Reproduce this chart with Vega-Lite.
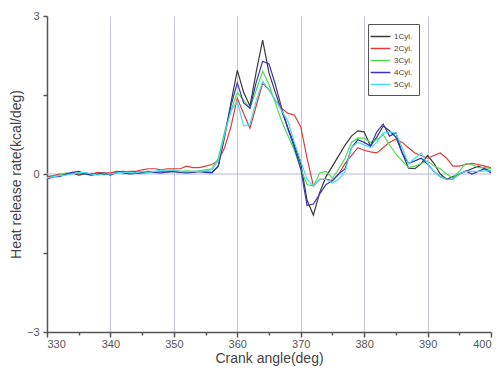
{
  "$schema": "https://vega.github.io/schema/vega-lite/v6.json",
  "autosize": "none",
  "width": 444,
  "height": 316,
  "padding": {"left": 47, "top": 16, "right": 12, "bottom": 44},
  "background": "white",
  "config": {
    "view": {"stroke": null},
    "font": "Liberation Sans"
  },
  "datasets": {
    "zero": [{"z": 0}]
  },
  "data": {
    "values": [
      {"cyl":"1Cyl.","deg":330,"v":-0.05},{"cyl":"1Cyl.","deg":331,"v":-0.05},{"cyl":"1Cyl.","deg":332,"v":-0.03},{"cyl":"1Cyl.","deg":333,"v":0.0},{"cyl":"1Cyl.","deg":334,"v":0.02},{"cyl":"1Cyl.","deg":335,"v":-0.02},{"cyl":"1Cyl.","deg":336,"v":0.0},{"cyl":"1Cyl.","deg":337,"v":0.01},{"cyl":"1Cyl.","deg":338,"v":0.0},{"cyl":"1Cyl.","deg":339,"v":-0.01},{"cyl":"1Cyl.","deg":340,"v":0.0},{"cyl":"1Cyl.","deg":341,"v":0.05},{"cyl":"1Cyl.","deg":342,"v":0.02},{"cyl":"1Cyl.","deg":343,"v":0.0},{"cyl":"1Cyl.","deg":344,"v":0.01},{"cyl":"1Cyl.","deg":345,"v":0.02},{"cyl":"1Cyl.","deg":346,"v":0.03},{"cyl":"1Cyl.","deg":347,"v":0.03},{"cyl":"1Cyl.","deg":348,"v":0.05},{"cyl":"1Cyl.","deg":349,"v":0.04},{"cyl":"1Cyl.","deg":350,"v":0.05},{"cyl":"1Cyl.","deg":351,"v":0.03},{"cyl":"1Cyl.","deg":352,"v":0.03},{"cyl":"1Cyl.","deg":353,"v":0.04},{"cyl":"1Cyl.","deg":354,"v":0.05},{"cyl":"1Cyl.","deg":355,"v":0.04},{"cyl":"1Cyl.","deg":356,"v":0.03},{"cyl":"1Cyl.","deg":357,"v":0.15},{"cyl":"1Cyl.","deg":358,"v":0.7},{"cyl":"1Cyl.","deg":359,"v":1.35},{"cyl":"1Cyl.","deg":360,"v":1.97},{"cyl":"1Cyl.","deg":361,"v":1.55},{"cyl":"1Cyl.","deg":362,"v":1.29},{"cyl":"1Cyl.","deg":363,"v":1.95},{"cyl":"1Cyl.","deg":364,"v":2.54},{"cyl":"1Cyl.","deg":365,"v":1.92},{"cyl":"1Cyl.","deg":366,"v":1.55},{"cyl":"1Cyl.","deg":367,"v":1.2},{"cyl":"1Cyl.","deg":368,"v":0.87},{"cyl":"1Cyl.","deg":369,"v":0.55},{"cyl":"1Cyl.","deg":370,"v":0.2},{"cyl":"1Cyl.","deg":371,"v":-0.5},{"cyl":"1Cyl.","deg":372,"v":-0.78},{"cyl":"1Cyl.","deg":373,"v":-0.35},{"cyl":"1Cyl.","deg":374,"v":-0.05},{"cyl":"1Cyl.","deg":375,"v":0.15},{"cyl":"1Cyl.","deg":376,"v":0.35},{"cyl":"1Cyl.","deg":377,"v":0.55},{"cyl":"1Cyl.","deg":378,"v":0.72},{"cyl":"1Cyl.","deg":379,"v":0.82},{"cyl":"1Cyl.","deg":380,"v":0.8},{"cyl":"1Cyl.","deg":381,"v":0.53},{"cyl":"1Cyl.","deg":382,"v":0.7},{"cyl":"1Cyl.","deg":383,"v":0.91},{"cyl":"1Cyl.","deg":384,"v":0.82},{"cyl":"1Cyl.","deg":385,"v":0.7},{"cyl":"1Cyl.","deg":386,"v":0.4},{"cyl":"1Cyl.","deg":387,"v":0.11},{"cyl":"1Cyl.","deg":388,"v":0.1},{"cyl":"1Cyl.","deg":389,"v":0.2},{"cyl":"1Cyl.","deg":390,"v":0.35},{"cyl":"1Cyl.","deg":391,"v":0.2},{"cyl":"1Cyl.","deg":392,"v":0.0},{"cyl":"1Cyl.","deg":393,"v":-0.1},{"cyl":"1Cyl.","deg":394,"v":-0.05},{"cyl":"1Cyl.","deg":395,"v":0.0},{"cyl":"1Cyl.","deg":396,"v":0.05},{"cyl":"1Cyl.","deg":397,"v":0.1},{"cyl":"1Cyl.","deg":398,"v":0.15},{"cyl":"1Cyl.","deg":399,"v":0.1},{"cyl":"1Cyl.","deg":400,"v":0.05},

      {"cyl":"2Cyl.","deg":330,"v":-0.05},{"cyl":"2Cyl.","deg":331,"v":-0.03},{"cyl":"2Cyl.","deg":332,"v":0.0},{"cyl":"2Cyl.","deg":333,"v":0.0},{"cyl":"2Cyl.","deg":334,"v":0.02},{"cyl":"2Cyl.","deg":335,"v":0.0},{"cyl":"2Cyl.","deg":336,"v":0.02},{"cyl":"2Cyl.","deg":337,"v":0.0},{"cyl":"2Cyl.","deg":338,"v":0.03},{"cyl":"2Cyl.","deg":339,"v":0.02},{"cyl":"2Cyl.","deg":340,"v":0.02},{"cyl":"2Cyl.","deg":341,"v":0.05},{"cyl":"2Cyl.","deg":342,"v":0.03},{"cyl":"2Cyl.","deg":343,"v":0.05},{"cyl":"2Cyl.","deg":344,"v":0.05},{"cyl":"2Cyl.","deg":345,"v":0.08},{"cyl":"2Cyl.","deg":346,"v":0.1},{"cyl":"2Cyl.","deg":347,"v":0.1},{"cyl":"2Cyl.","deg":348,"v":0.08},{"cyl":"2Cyl.","deg":349,"v":0.1},{"cyl":"2Cyl.","deg":350,"v":0.1},{"cyl":"2Cyl.","deg":351,"v":0.1},{"cyl":"2Cyl.","deg":352,"v":0.15},{"cyl":"2Cyl.","deg":353,"v":0.12},{"cyl":"2Cyl.","deg":354,"v":0.12},{"cyl":"2Cyl.","deg":355,"v":0.15},{"cyl":"2Cyl.","deg":356,"v":0.18},{"cyl":"2Cyl.","deg":357,"v":0.25},{"cyl":"2Cyl.","deg":358,"v":0.5},{"cyl":"2Cyl.","deg":359,"v":0.9},{"cyl":"2Cyl.","deg":360,"v":1.44},{"cyl":"2Cyl.","deg":361,"v":1.15},{"cyl":"2Cyl.","deg":362,"v":0.87},{"cyl":"2Cyl.","deg":363,"v":1.3},{"cyl":"2Cyl.","deg":364,"v":1.72},{"cyl":"2Cyl.","deg":365,"v":1.6},{"cyl":"2Cyl.","deg":366,"v":1.4},{"cyl":"2Cyl.","deg":367,"v":1.25},{"cyl":"2Cyl.","deg":368,"v":1.15},{"cyl":"2Cyl.","deg":369,"v":1.12},{"cyl":"2Cyl.","deg":370,"v":0.9},{"cyl":"2Cyl.","deg":371,"v":0.3},{"cyl":"2Cyl.","deg":372,"v":-0.23},{"cyl":"2Cyl.","deg":373,"v":-0.1},{"cyl":"2Cyl.","deg":374,"v":-0.1},{"cyl":"2Cyl.","deg":375,"v":-0.12},{"cyl":"2Cyl.","deg":376,"v":0.0},{"cyl":"2Cyl.","deg":377,"v":0.2},{"cyl":"2Cyl.","deg":378,"v":0.35},{"cyl":"2Cyl.","deg":379,"v":0.5},{"cyl":"2Cyl.","deg":380,"v":0.45},{"cyl":"2Cyl.","deg":381,"v":0.42},{"cyl":"2Cyl.","deg":382,"v":0.4},{"cyl":"2Cyl.","deg":383,"v":0.5},{"cyl":"2Cyl.","deg":384,"v":0.6},{"cyl":"2Cyl.","deg":385,"v":0.66},{"cyl":"2Cyl.","deg":386,"v":0.6},{"cyl":"2Cyl.","deg":387,"v":0.5},{"cyl":"2Cyl.","deg":388,"v":0.4},{"cyl":"2Cyl.","deg":389,"v":0.35},{"cyl":"2Cyl.","deg":390,"v":0.3},{"cyl":"2Cyl.","deg":391,"v":0.35},{"cyl":"2Cyl.","deg":392,"v":0.4},{"cyl":"2Cyl.","deg":393,"v":0.3},{"cyl":"2Cyl.","deg":394,"v":0.15},{"cyl":"2Cyl.","deg":395,"v":0.15},{"cyl":"2Cyl.","deg":396,"v":0.18},{"cyl":"2Cyl.","deg":397,"v":0.2},{"cyl":"2Cyl.","deg":398,"v":0.18},{"cyl":"2Cyl.","deg":399,"v":0.15},{"cyl":"2Cyl.","deg":400,"v":0.12},

      {"cyl":"3Cyl.","deg":330,"v":-0.08},{"cyl":"3Cyl.","deg":331,"v":-0.05},{"cyl":"3Cyl.","deg":332,"v":-0.02},{"cyl":"3Cyl.","deg":333,"v":0.02},{"cyl":"3Cyl.","deg":334,"v":0.0},{"cyl":"3Cyl.","deg":335,"v":0.03},{"cyl":"3Cyl.","deg":336,"v":0.0},{"cyl":"3Cyl.","deg":337,"v":-0.02},{"cyl":"3Cyl.","deg":338,"v":0.0},{"cyl":"3Cyl.","deg":339,"v":0.02},{"cyl":"3Cyl.","deg":340,"v":0.0},{"cyl":"3Cyl.","deg":341,"v":0.02},{"cyl":"3Cyl.","deg":342,"v":0.05},{"cyl":"3Cyl.","deg":343,"v":0.02},{"cyl":"3Cyl.","deg":344,"v":0.03},{"cyl":"3Cyl.","deg":345,"v":0.05},{"cyl":"3Cyl.","deg":346,"v":0.02},{"cyl":"3Cyl.","deg":347,"v":0.04},{"cyl":"3Cyl.","deg":348,"v":0.06},{"cyl":"3Cyl.","deg":349,"v":0.05},{"cyl":"3Cyl.","deg":350,"v":0.08},{"cyl":"3Cyl.","deg":351,"v":0.05},{"cyl":"3Cyl.","deg":352,"v":0.06},{"cyl":"3Cyl.","deg":353,"v":0.05},{"cyl":"3Cyl.","deg":354,"v":0.06},{"cyl":"3Cyl.","deg":355,"v":0.08},{"cyl":"3Cyl.","deg":356,"v":0.1},{"cyl":"3Cyl.","deg":357,"v":0.3},{"cyl":"3Cyl.","deg":358,"v":0.8},{"cyl":"3Cyl.","deg":359,"v":1.2},{"cyl":"3Cyl.","deg":360,"v":1.55},{"cyl":"3Cyl.","deg":361,"v":1.4},{"cyl":"3Cyl.","deg":362,"v":1.25},{"cyl":"3Cyl.","deg":363,"v":1.6},{"cyl":"3Cyl.","deg":364,"v":1.95},{"cyl":"3Cyl.","deg":365,"v":1.7},{"cyl":"3Cyl.","deg":366,"v":1.35},{"cyl":"3Cyl.","deg":367,"v":1.0},{"cyl":"3Cyl.","deg":368,"v":0.72},{"cyl":"3Cyl.","deg":369,"v":0.45},{"cyl":"3Cyl.","deg":370,"v":0.1},{"cyl":"3Cyl.","deg":371,"v":-0.2},{"cyl":"3Cyl.","deg":372,"v":-0.23},{"cyl":"3Cyl.","deg":373,"v":0.02},{"cyl":"3Cyl.","deg":374,"v":0.05},{"cyl":"3Cyl.","deg":375,"v":-0.08},{"cyl":"3Cyl.","deg":376,"v":0.1},{"cyl":"3Cyl.","deg":377,"v":0.3},{"cyl":"3Cyl.","deg":378,"v":0.6},{"cyl":"3Cyl.","deg":379,"v":0.68},{"cyl":"3Cyl.","deg":380,"v":0.68},{"cyl":"3Cyl.","deg":381,"v":0.6},{"cyl":"3Cyl.","deg":382,"v":0.65},{"cyl":"3Cyl.","deg":383,"v":0.75},{"cyl":"3Cyl.","deg":384,"v":0.55},{"cyl":"3Cyl.","deg":385,"v":0.38},{"cyl":"3Cyl.","deg":386,"v":0.25},{"cyl":"3Cyl.","deg":387,"v":0.12},{"cyl":"3Cyl.","deg":388,"v":0.15},{"cyl":"3Cyl.","deg":389,"v":0.2},{"cyl":"3Cyl.","deg":390,"v":0.25},{"cyl":"3Cyl.","deg":391,"v":0.15},{"cyl":"3Cyl.","deg":392,"v":0.1},{"cyl":"3Cyl.","deg":393,"v":0.0},{"cyl":"3Cyl.","deg":394,"v":-0.08},{"cyl":"3Cyl.","deg":395,"v":0.05},{"cyl":"3Cyl.","deg":396,"v":0.2},{"cyl":"3Cyl.","deg":397,"v":0.18},{"cyl":"3Cyl.","deg":398,"v":0.12},{"cyl":"3Cyl.","deg":399,"v":0.12},{"cyl":"3Cyl.","deg":400,"v":0.1},

      {"cyl":"4Cyl.","deg":330,"v":-0.1},{"cyl":"4Cyl.","deg":331,"v":-0.05},{"cyl":"4Cyl.","deg":332,"v":-0.05},{"cyl":"4Cyl.","deg":333,"v":0.0},{"cyl":"4Cyl.","deg":334,"v":0.03},{"cyl":"4Cyl.","deg":335,"v":0.05},{"cyl":"4Cyl.","deg":336,"v":0.0},{"cyl":"4Cyl.","deg":337,"v":-0.02},{"cyl":"4Cyl.","deg":338,"v":0.0},{"cyl":"4Cyl.","deg":339,"v":0.02},{"cyl":"4Cyl.","deg":340,"v":-0.02},{"cyl":"4Cyl.","deg":341,"v":0.03},{"cyl":"4Cyl.","deg":342,"v":0.05},{"cyl":"4Cyl.","deg":343,"v":0.02},{"cyl":"4Cyl.","deg":344,"v":0.03},{"cyl":"4Cyl.","deg":345,"v":0.04},{"cyl":"4Cyl.","deg":346,"v":0.05},{"cyl":"4Cyl.","deg":347,"v":0.03},{"cyl":"4Cyl.","deg":348,"v":0.02},{"cyl":"4Cyl.","deg":349,"v":0.04},{"cyl":"4Cyl.","deg":350,"v":0.05},{"cyl":"4Cyl.","deg":351,"v":0.03},{"cyl":"4Cyl.","deg":352,"v":0.02},{"cyl":"4Cyl.","deg":353,"v":0.03},{"cyl":"4Cyl.","deg":354,"v":0.05},{"cyl":"4Cyl.","deg":355,"v":0.03},{"cyl":"4Cyl.","deg":356,"v":0.02},{"cyl":"4Cyl.","deg":357,"v":0.15},{"cyl":"4Cyl.","deg":358,"v":0.75},{"cyl":"4Cyl.","deg":359,"v":1.3},{"cyl":"4Cyl.","deg":360,"v":1.73},{"cyl":"4Cyl.","deg":361,"v":1.35},{"cyl":"4Cyl.","deg":362,"v":1.25},{"cyl":"4Cyl.","deg":363,"v":1.75},{"cyl":"4Cyl.","deg":364,"v":2.14},{"cyl":"4Cyl.","deg":365,"v":2.09},{"cyl":"4Cyl.","deg":366,"v":1.7},{"cyl":"4Cyl.","deg":367,"v":1.25},{"cyl":"4Cyl.","deg":368,"v":0.85},{"cyl":"4Cyl.","deg":369,"v":0.5},{"cyl":"4Cyl.","deg":370,"v":0.1},{"cyl":"4Cyl.","deg":371,"v":-0.6},{"cyl":"4Cyl.","deg":372,"v":-0.57},{"cyl":"4Cyl.","deg":373,"v":-0.38},{"cyl":"4Cyl.","deg":374,"v":-0.2},{"cyl":"4Cyl.","deg":375,"v":-0.13},{"cyl":"4Cyl.","deg":376,"v":0.0},{"cyl":"4Cyl.","deg":377,"v":0.1},{"cyl":"4Cyl.","deg":378,"v":0.5},{"cyl":"4Cyl.","deg":379,"v":0.65},{"cyl":"4Cyl.","deg":380,"v":0.6},{"cyl":"4Cyl.","deg":381,"v":0.53},{"cyl":"4Cyl.","deg":382,"v":0.8},{"cyl":"4Cyl.","deg":383,"v":0.95},{"cyl":"4Cyl.","deg":384,"v":0.72},{"cyl":"4Cyl.","deg":385,"v":0.78},{"cyl":"4Cyl.","deg":386,"v":0.4},{"cyl":"4Cyl.","deg":387,"v":0.2},{"cyl":"4Cyl.","deg":388,"v":0.25},{"cyl":"4Cyl.","deg":389,"v":0.3},{"cyl":"4Cyl.","deg":390,"v":0.19},{"cyl":"4Cyl.","deg":391,"v":0.05},{"cyl":"4Cyl.","deg":392,"v":-0.05},{"cyl":"4Cyl.","deg":393,"v":-0.1},{"cyl":"4Cyl.","deg":394,"v":-0.1},{"cyl":"4Cyl.","deg":395,"v":0.0},{"cyl":"4Cyl.","deg":396,"v":0.06},{"cyl":"4Cyl.","deg":397,"v":0.0},{"cyl":"4Cyl.","deg":398,"v":0.05},{"cyl":"4Cyl.","deg":399,"v":0.1},{"cyl":"4Cyl.","deg":400,"v":0.02},

      {"cyl":"5Cyl.","deg":330,"v":-0.08},{"cyl":"5Cyl.","deg":331,"v":-0.05},{"cyl":"5Cyl.","deg":332,"v":-0.03},{"cyl":"5Cyl.","deg":333,"v":-0.02},{"cyl":"5Cyl.","deg":334,"v":0.0},{"cyl":"5Cyl.","deg":335,"v":0.02},{"cyl":"5Cyl.","deg":336,"v":0.03},{"cyl":"5Cyl.","deg":337,"v":0.0},{"cyl":"5Cyl.","deg":338,"v":-0.02},{"cyl":"5Cyl.","deg":339,"v":0.0},{"cyl":"5Cyl.","deg":340,"v":0.0},{"cyl":"5Cyl.","deg":341,"v":0.02},{"cyl":"5Cyl.","deg":342,"v":0.03},{"cyl":"5Cyl.","deg":343,"v":0.03},{"cyl":"5Cyl.","deg":344,"v":0.02},{"cyl":"5Cyl.","deg":345,"v":0.05},{"cyl":"5Cyl.","deg":346,"v":0.03},{"cyl":"5Cyl.","deg":347,"v":0.05},{"cyl":"5Cyl.","deg":348,"v":0.07},{"cyl":"5Cyl.","deg":349,"v":0.08},{"cyl":"5Cyl.","deg":350,"v":0.07},{"cyl":"5Cyl.","deg":351,"v":0.05},{"cyl":"5Cyl.","deg":352,"v":0.04},{"cyl":"5Cyl.","deg":353,"v":0.05},{"cyl":"5Cyl.","deg":354,"v":0.05},{"cyl":"5Cyl.","deg":355,"v":0.06},{"cyl":"5Cyl.","deg":356,"v":0.08},{"cyl":"5Cyl.","deg":357,"v":0.25},{"cyl":"5Cyl.","deg":358,"v":0.75},{"cyl":"5Cyl.","deg":359,"v":1.2},{"cyl":"5Cyl.","deg":360,"v":1.38},{"cyl":"5Cyl.","deg":361,"v":0.91},{"cyl":"5Cyl.","deg":362,"v":0.95},{"cyl":"5Cyl.","deg":363,"v":1.4},{"cyl":"5Cyl.","deg":364,"v":1.76},{"cyl":"5Cyl.","deg":365,"v":1.6},{"cyl":"5Cyl.","deg":366,"v":1.4},{"cyl":"5Cyl.","deg":367,"v":1.2},{"cyl":"5Cyl.","deg":368,"v":1.0},{"cyl":"5Cyl.","deg":369,"v":0.6},{"cyl":"5Cyl.","deg":370,"v":0.25},{"cyl":"5Cyl.","deg":371,"v":-0.1},{"cyl":"5Cyl.","deg":372,"v":-0.23},{"cyl":"5Cyl.","deg":373,"v":-0.1},{"cyl":"5Cyl.","deg":374,"v":-0.1},{"cyl":"5Cyl.","deg":375,"v":-0.17},{"cyl":"5Cyl.","deg":376,"v":-0.1},{"cyl":"5Cyl.","deg":377,"v":0.05},{"cyl":"5Cyl.","deg":378,"v":0.5},{"cyl":"5Cyl.","deg":379,"v":0.6},{"cyl":"5Cyl.","deg":380,"v":0.55},{"cyl":"5Cyl.","deg":381,"v":0.5},{"cyl":"5Cyl.","deg":382,"v":0.6},{"cyl":"5Cyl.","deg":383,"v":0.78},{"cyl":"5Cyl.","deg":384,"v":0.8},{"cyl":"5Cyl.","deg":385,"v":0.78},{"cyl":"5Cyl.","deg":386,"v":0.5},{"cyl":"5Cyl.","deg":387,"v":0.19},{"cyl":"5Cyl.","deg":388,"v":0.3},{"cyl":"5Cyl.","deg":389,"v":0.4},{"cyl":"5Cyl.","deg":390,"v":0.19},{"cyl":"5Cyl.","deg":391,"v":0.05},{"cyl":"5Cyl.","deg":392,"v":-0.05},{"cyl":"5Cyl.","deg":393,"v":-0.1},{"cyl":"5Cyl.","deg":394,"v":-0.1},{"cyl":"5Cyl.","deg":395,"v":0.0},{"cyl":"5Cyl.","deg":396,"v":0.05},{"cyl":"5Cyl.","deg":397,"v":0.05},{"cyl":"5Cyl.","deg":398,"v":0.05},{"cyl":"5Cyl.","deg":399,"v":0.06},{"cyl":"5Cyl.","deg":400,"v":0.06}
    ]
  },
  "layer": [
    {
      "data": {"name": "zero"},
      "mark": {"type": "rule", "color": "#b4b4e4", "strokeWidth": 1},
      "encoding": {"y": {"field": "z", "type": "quantitative", "scale": {"domain": [-3, 3]}}}
    },
    {
      "mark": {"type": "line", "strokeWidth": 1.2, "clip": true},
      "encoding": {
        "x": {
          "field": "deg", "type": "quantitative",
          "scale": {"domain": [330, 400], "nice": false, "zero": false},
          "axis": {
            "title": "Crank angle(deg)",
            "values": [330,335,340,345,350,355,360,365,370,375,380,385,390,395,400],
            "labelExpr": "datum.value % 10 == 0 ? datum.label : ''",
            "labelFont": "Liberation Sans", "labelFontSize": 11, "labelColor": "#555555", "labelPadding": 1,
            "titleFont": "Liberation Sans", "titleFontSize": 14, "titleFontWeight": "normal", "titleColor": "#444444", "titlePadding": 2,
            "domainColor": "#555555", "domainWidth": 1.5,
            "tickColor": "#555555", "tickWidth": 1.5,
            "tickSize": {"condition": {"test": "datum.value % 10 == 0", "value": 5}, "value": 3},
            "grid": true,
            "gridColor": "#c4c4e2",
            "gridWidth": 1,
            "gridOpacity": {"condition": {"test": "datum.value % 10 == 0 && datum.value > 330 && datum.value < 400", "value": 1}, "value": 0}
          }
        },
        "y": {
          "field": "v", "type": "quantitative",
          "scale": {"domain": [-3, 3], "nice": false},
          "axis": {
            "title": "Heat release rate(kcal/deg)",
            "values": [-3, -1.5, 0, 1.5, 3],
            "labelExpr": "datum.value % 3 == 0 ? datum.label : ''",
            "labelFont": "Liberation Sans", "labelFontSize": 11, "labelColor": "#555555", "labelPadding": 4,
            "titleFont": "Liberation Sans", "titleFontSize": 14, "titleFontWeight": "normal", "titleColor": "#444444", "titlePadding": 3,
            "domainColor": "#555555", "domainWidth": 1.5,
            "tickColor": "#555555", "tickWidth": 1.5, "tickSize": 4,
            "grid": false
          }
        },
        "color": {
          "field": "cyl", "type": "nominal",
          "scale": {"domain": ["1Cyl.","2Cyl.","3Cyl.","4Cyl.","5Cyl."], "range": ["#3a3a3a","#e03a3a","#4fdc4f","#3535c0","#45dcef"]},
          "legend": {
            "title": null,
            "orient": "none",
            "legendX": 321,
            "legendY": 8,
            "symbolType": "M-1.8,0H1.8",
            "symbolSize": 121,
            "symbolStrokeWidth": 1.5,
            "labelFont": "Liberation Sans",
            "labelFontSize": 8,
            "labelColor": "#444444",
            "labelOffset": 7,
            "rowPadding": 1,
            "padding": 6,
            "strokeColor": "#555555",
            "fillColor": "white"
          }
        }
      }
    }
  ]
}
